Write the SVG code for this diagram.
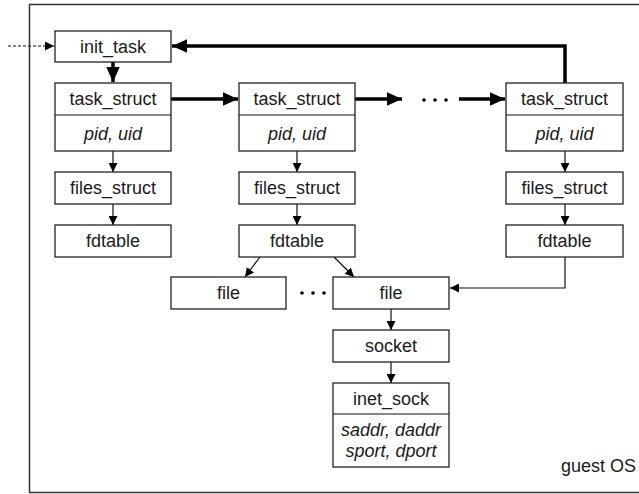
<svg xmlns="http://www.w3.org/2000/svg" width="639" height="494" viewBox="0 0 639 494">
<defs>
<style>
.box{fill:#fff;stroke:#222;stroke-width:1.3}
.t{font-family:"Liberation Sans",Arial,sans-serif;font-size:18px;fill:#1a1a1a;text-anchor:middle}
.i{font-style:italic}
.thin{stroke:#111;stroke-width:1.2;fill:none}
.thick{stroke:#000;stroke-width:3.5;fill:none}
</style>
<marker id="ah" viewBox="0 0 10 10" refX="10" refY="5" markerWidth="9" markerHeight="9" markerUnits="userSpaceOnUse" orient="auto"><path d="M0,0L10,5L0,10z" fill="#000"/></marker>
<marker id="ahT" viewBox="0 0 10 10" refX="10" refY="5" markerWidth="15" markerHeight="15" markerUnits="userSpaceOnUse" orient="auto"><path d="M0,0.5L10,5L0,9.5z" fill="#000"/></marker>
</defs>
<rect x="29.5" y="4.5" width="615" height="488" fill="#fff" stroke="#333" stroke-width="1.5"/>
<g id="connectors">
<line x1="8" y1="46" x2="54" y2="46" stroke="#111" stroke-width="1.2" stroke-dasharray="3,2" marker-end="url(#ah)"/>
<line class="thick" x1="113" y1="62" x2="113" y2="82" marker-end="url(#ahT)"/>
<polyline class="thick" points="565,83 565,46 172,46" marker-end="url(#ahT)"/>
<line class="thick" x1="171" y1="99" x2="238" y2="99" marker-end="url(#ahT)"/>
<line class="thick" x1="355" y1="99" x2="402" y2="99" marker-end="url(#ahT)"/>
<line class="thick" x1="459" y1="99" x2="505" y2="99" marker-end="url(#ahT)"/>
<g fill="#000"><circle cx="424" cy="100" r="1.8"/><circle cx="435" cy="100" r="1.8"/><circle cx="446" cy="100" r="1.8"/>
<circle cx="302" cy="293" r="1.8"/><circle cx="313" cy="293" r="1.8"/><circle cx="324" cy="293" r="1.8"/></g>
<line class="thin" x1="113" y1="151" x2="113" y2="172" marker-end="url(#ah)"/>
<line class="thin" x1="113" y1="204" x2="113" y2="225" marker-end="url(#ah)"/>
<line class="thin" x1="297" y1="151" x2="297" y2="172" marker-end="url(#ah)"/>
<line class="thin" x1="297" y1="204" x2="297" y2="225" marker-end="url(#ah)"/>
<line class="thin" x1="565" y1="151" x2="565" y2="172" marker-end="url(#ah)"/>
<line class="thin" x1="565" y1="204" x2="565" y2="225" marker-end="url(#ah)"/>
<line class="thin" x1="260" y1="257" x2="245" y2="277" marker-end="url(#ah)"/>
<line class="thin" x1="334" y1="257" x2="354" y2="277" marker-end="url(#ah)"/>
<polyline class="thin" points="565,257 565,288 450,288" marker-end="url(#ah)"/>
<line class="thin" x1="391" y1="309" x2="391" y2="330" marker-end="url(#ah)"/>
<line class="thin" x1="391" y1="362" x2="391" y2="383" marker-end="url(#ah)"/>
</g>
<g id="init_task"><rect class="box" x="55" y="31" width="116" height="31"/><text class="t" x="113" y="52.5">init_task</text></g>
<g id="task_struct_1"><rect class="box" x="55" y="83" width="116" height="68"/><line class="thin" x1="55" y1="115" x2="171" y2="115"/><text class="t" x="113" y="104.5">task_struct</text><text class="t i" x="113" y="139.5">pid, uid</text></g>
<g id="task_struct_2"><rect class="box" x="239" y="83" width="116" height="68"/><line class="thin" x1="239" y1="115" x2="355" y2="115"/><text class="t" x="297" y="104.5">task_struct</text><text class="t i" x="297" y="139.5">pid, uid</text></g>
<g id="task_struct_3"><rect class="box" x="506" y="83" width="117" height="68"/><line class="thin" x1="506" y1="115" x2="623" y2="115"/><text class="t" x="564.5" y="104.5">task_struct</text><text class="t i" x="564.5" y="139.5">pid, uid</text></g>
<g id="files_struct_1"><rect class="box" x="55" y="172" width="116" height="32"/><text class="t" x="113" y="194">files_struct</text></g>
<g id="files_struct_2"><rect class="box" x="239" y="172" width="116" height="32"/><text class="t" x="297" y="194">files_struct</text></g>
<g id="files_struct_3"><rect class="box" x="506" y="172" width="117" height="32"/><text class="t" x="564.5" y="194">files_struct</text></g>
<g id="fdtable_1"><rect class="box" x="55" y="225" width="116" height="32"/><text class="t" x="113" y="247">fdtable</text></g>
<g id="fdtable_2"><rect class="box" x="239" y="225" width="116" height="32"/><text class="t" x="297" y="247">fdtable</text></g>
<g id="fdtable_3"><rect class="box" x="506" y="225" width="117" height="32"/><text class="t" x="564.5" y="247">fdtable</text></g>
<g id="file_1"><rect class="box" x="171" y="277" width="115" height="32"/><text class="t" x="228.5" y="299">file</text></g>
<g id="file_2"><rect class="box" x="333" y="277" width="116" height="32"/><text class="t" x="391" y="299">file</text></g>
<g id="socket"><rect class="box" x="333" y="330" width="116" height="32"/><text class="t" x="391" y="352">socket</text></g>
<g id="inet_sock"><rect class="box" x="333" y="383" width="116" height="84"/><line class="thin" x1="333" y1="414" x2="449" y2="414"/><text class="t" x="391" y="404.5">inet_sock</text><text class="t i" x="391" y="435.5">saddr, daddr</text><text class="t i" x="391" y="457">sport, dport</text></g>
<text class="t" x="636" y="472" style="text-anchor:end">guest OS</text>
</svg>
